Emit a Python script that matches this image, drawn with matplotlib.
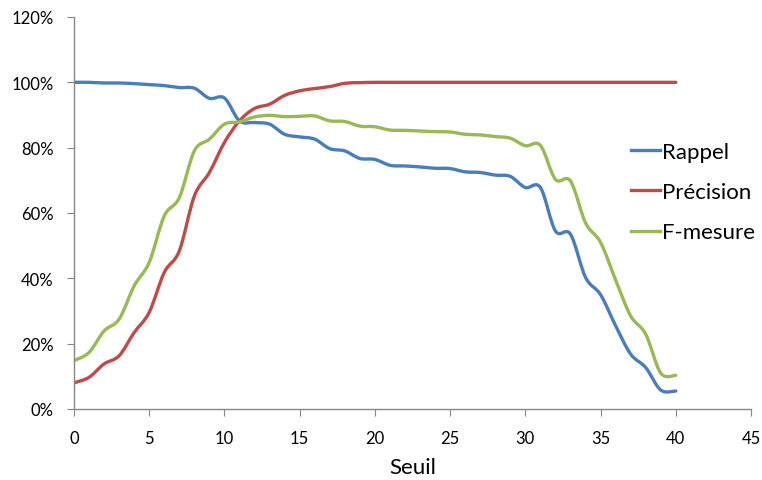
import numpy as np
import matplotlib
matplotlib.use('Agg')
import matplotlib.pyplot as plt
from matplotlib.path import Path
from matplotlib.patches import PathPatch
from matplotlib.lines import Line2D
from matplotlib.ticker import FuncFormatter

plt.rcParams['font.family'] = ['Lato', 'DejaVu Sans']

# Data, threshold 0..40
seuil = list(range(41))
rappel = [100, 100, 99.8, 99.8, 99.6, 99.3, 99.0, 98.4, 98.2, 95.1,
          95.2, 88.2, 87.7, 87.2, 84.1, 83.3, 82.6, 79.7, 79.0, 76.7,
          76.4, 74.6, 74.4, 74.1, 73.7, 73.6, 72.6, 72.4, 71.6, 71.2,
          67.8, 67.8, 54.5, 53.5, 40.3, 35.0, 25.5, 16.8, 12.7, 5.8,
          5.5]
precision = [8.0, 9.7, 13.8, 16.3, 23.4, 29.6, 41.8, 48.4, 65.2, 72.4,
             81.6, 88.2, 92.0, 93.3, 96.0, 97.4, 98.1, 98.7, 99.7, 99.9,
             100, 100, 100, 100, 100, 100, 100, 100, 100, 100,
             100, 100, 100, 100, 100, 100, 100, 100, 100, 100,
             100]
f_mesure = [14.8, 17.3, 23.9, 27.5, 37.7, 44.9, 59.1, 64.7, 79.0, 82.6,
            87.2, 87.9, 89.4, 89.9, 89.5, 89.6, 89.7, 88.2, 88.0, 86.6,
            86.4, 85.4, 85.3, 85.1, 84.9, 84.8, 84.1, 83.9, 83.4, 82.9,
            80.6, 80.7, 70.3, 69.8, 57.0, 51.0, 39.5, 28.5, 22.9, 11.0,
            10.3]

series = [('Rappel', rappel, '#4A7EBB'),
          ('Précision', precision, '#BE4B48'),
          ('F-mesure', f_mesure, '#98B954')]


def smooth_path(x, y):
	"""Excel-like smoothed line: cubic Bezier segments through the points"""
	pts = np.column_stack([x, y]).astype(float)
	n = len(pts)
	verts = [pts[0]]
	codes = [Path.MOVETO]
	for i in range(n - 1):
		p0 = pts[max(i - 1, 0)]
		p1 = pts[i]
		p2 = pts[i + 1]
		p3 = pts[min(i + 2, n - 1)]
		verts += [p1 + (p2 - p0) / 6.0, p2 - (p3 - p1) / 6.0, p2]
		codes += [Path.CURVE4] * 3
	return Path(verts, codes)


fig = plt.figure(figsize=(7.62, 4.81), dpi=100)
ax = fig.add_axes([74 / 762, 1 - 410 / 481, (751 - 74) / 762, (410 - 18) / 481])

handles = []
for name, vals, color in series:
	patch = PathPatch(smooth_path(seuil, vals), facecolor='none', edgecolor=color,
	                  lw=2.4, capstyle='round', joinstyle='round')
	ax.add_patch(patch)
	handles.append(Line2D([], [], color=color, lw=2.4, label=name))

ax.set_xlim(0, 45)
ax.set_ylim(0, 120)
ax.set_xticks(range(0, 46, 5))
ax.set_yticks(range(0, 121, 20))
ax.yaxis.set_major_formatter(FuncFormatter(lambda v, p: '%d%%' % v))

for side in ('top', 'right'):
	ax.spines[side].set_visible(False)
for side in ('left', 'bottom'):
	ax.spines[side].set_color('#868686')
	ax.spines[side].set_linewidth(1.0)
ax.tick_params(axis='both', direction='out', length=5, color='#868686',
               labelsize=12, labelcolor='black')
ax.tick_params(axis='y', pad=9.5)
ax.tick_params(axis='x', pad=10)

ax.set_xlabel('Seuil', fontsize=16, labelpad=8)

fig.legend(handles=handles, loc='center left', bbox_to_anchor=(631 / 762, 1 - 193 / 481),
           frameon=False, fontsize=16, handlelength=1.3, handletextpad=0.1,
           labelspacing=0.92, borderpad=0, borderaxespad=0)

fig.savefig('out.png', dpi=100)
